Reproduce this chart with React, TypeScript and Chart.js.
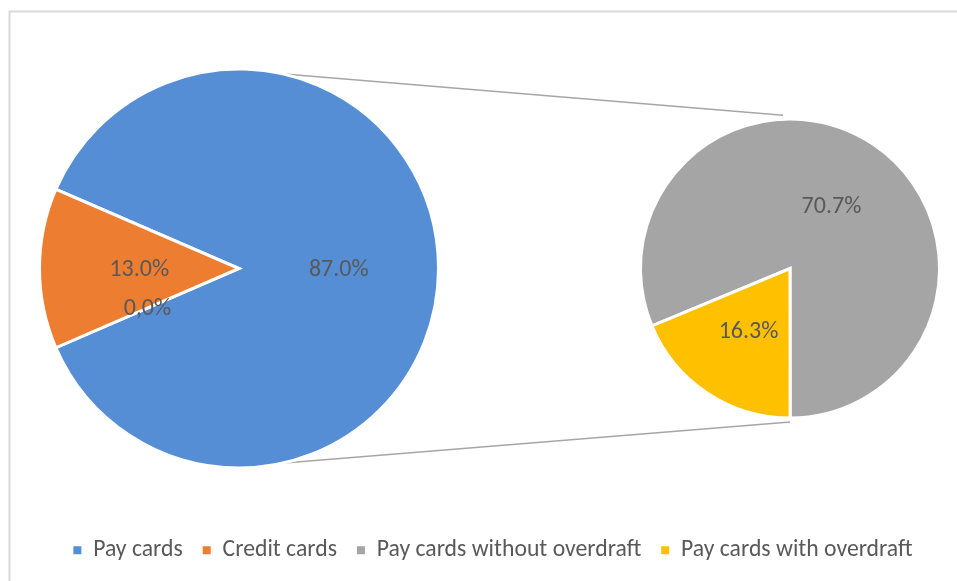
import React, { useEffect, useRef } from "react";
import { Chart, registerables } from "chart.js";

Chart.register(...registerables);

// ---- data ----
const MAIN_CATEGORIES = ["Pay cards", "(zero)", "Credit cards"];
const MAIN_VALUES = [87.0, 0.0, 13.0];
const MAIN_LABELS = ["87.0%", "0,0%", "13.0%"];
const MAIN_COLORS = ["#558ED5", "#A5A5A5", "#ED7D31"];

const SUB_CATEGORIES = ["Pay cards without overdraft", "Pay cards with overdraft"];
const SUB_VALUES = [70.7, 16.3];
const SUB_LABELS = ["70.7%", "16.3%"];
const SUB_COLORS = ["#A5A5A5", "#FFC000"];

const LEGEND_LABELS = ["Pay cards", "Credit cards", "Pay cards without overdraft", "Pay cards with overdraft"];
const LEGEND_COLORS = ["#558ED5", "#ED7D31", "#A5A5A5", "#FFC000"];

// ---- layout (pixels on a 957x581 canvas) ----
const W = 957;
const H = 581;
const MAIN_PIE = { cx: 239, cy: 268.5, r: 199.5 };
const SUB_PIE = { cx: 790, cy: 268.5, r: 149.5 };
const FONT = "Calibri, Carlito, Lato, 'Open Sans', sans-serif";
const TEXT_COLOR = "#595959";

const pieLayoutPlugin = {
  id: "pieOfPieLayout",
  afterDatasetsUpdate(chart: any) {
    const geoms = [MAIN_PIE, SUB_PIE];
    geoms.forEach((g, di) => {
      const meta = chart.getDatasetMeta(di);
      meta.data.forEach((arc: any) => {
        arc.x = g.cx;
        arc.y = g.cy;
        arc.innerRadius = 0;
        arc.outerRadius = g.r;
      });
    });
  },
  beforeDraw(chart: any) {
    const ctx = chart.ctx;
    ctx.save();
    // chart frame (top/left edges visible in reference)
    ctx.strokeStyle = "#D9D9D9";
    ctx.lineWidth = 2;
    ctx.beginPath();
    ctx.moveTo(9.5, H + 5);
    ctx.lineTo(9.5, 11.5);
    ctx.lineTo(W + 5, 11.5);
    ctx.stroke();
    // connector lines between the pies
    const pt = (g: any, deg: number, extra: number) => {
      const a = (deg * Math.PI) / 180;
      return [g.cx + (g.r + extra) * Math.cos(a), g.cy + (g.r + extra) * Math.sin(a)];
    };
    const m1 = pt(MAIN_PIE, -79.5, -1);
    const s1 = pt(SUB_PIE, -92.6, 4);
    const m2 = pt(MAIN_PIE, 79.5, -1);
    const s2 = pt(SUB_PIE, 90, 4);
    ctx.strokeStyle = "#A6A6A6";
    ctx.lineWidth = 1.5;
    ctx.beginPath();
    ctx.moveTo(m1[0], m1[1]);
    ctx.lineTo(s1[0], s1[1]);
    ctx.moveTo(m2[0], m2[1]);
    ctx.lineTo(s2[0], s2[1]);
    ctx.stroke();
    ctx.restore();
  },
  afterDatasetsDraw(chart: any) {
    const ctx = chart.ctx;
    ctx.save();
    ctx.fillStyle = TEXT_COLOR;
    ctx.font = `24px ${FONT}`;
    ctx.textAlign = "center";
    ctx.textBaseline = "middle";
    const labelSets = [MAIN_LABELS, SUB_LABELS];
    const geoms = [MAIN_PIE, SUB_PIE];
    labelSets.forEach((labels, di) => {
      const meta = chart.getDatasetMeta(di);
      const g = geoms[di];
      meta.data.forEach((arc: any, i: number) => {
        const mid = (arc.startAngle + arc.endAngle) / 2;
        const rr = g.r * 0.5;
        ctx.fillText(labels[i], g.cx + rr * Math.cos(mid), g.cy + rr * Math.sin(mid) + 1);
      });
    });
    ctx.restore();
  },
};

export default function App() {
  const ref = useRef<HTMLCanvasElement | null>(null);

  useEffect(() => {
    if (!ref.current) return;
    const chart = new Chart(ref.current, {
      type: "pie",
      data: {
        labels: MAIN_CATEGORIES,
        datasets: [
          {
            data: MAIN_VALUES,
            backgroundColor: MAIN_COLORS,
            borderColor: "#FFFFFF",
            borderWidth: 3,
            borderJoinStyle: "miter",
            rotation: 293.4,
          } as any,
          {
            data: SUB_VALUES,
            backgroundColor: SUB_COLORS,
            borderColor: "#FFFFFF",
            borderWidth: 3,
            borderJoinStyle: "miter",
            rotation: 247.4,
          } as any,
        ],
      },
      options: {
        responsive: false,
        animation: false,
        devicePixelRatio: 1,
        events: [],
        layout: { padding: { bottom: 9, left: 29 } },
        plugins: {
          tooltip: { enabled: false },
          legend: {
            position: "bottom",
            labels: {
              boxWidth: 8,
              boxHeight: 8,
              padding: 20,
              color: TEXT_COLOR,
              font: { family: FONT, size: 23.7 },
              generateLabels: () =>
                LEGEND_LABELS.map((t, i) => ({
                  text: t,
                  fillStyle: LEGEND_COLORS[i],
                  strokeStyle: LEGEND_COLORS[i],
                  lineWidth: 0,
                  hidden: false,
                  index: i,
                  fontColor: TEXT_COLOR,
                })),
            },
          },
        },
      },
      plugins: [pieLayoutPlugin],
    });
    return () => chart.destroy();
  }, []);

  return (
    <div style={{ position: "fixed", left: 0, top: 0, width: W, height: H, background: "#fff" }}>
      <canvas ref={ref} width={W} height={H} style={{ width: W, height: H, display: "block" }} />
    </div>
  );
}
